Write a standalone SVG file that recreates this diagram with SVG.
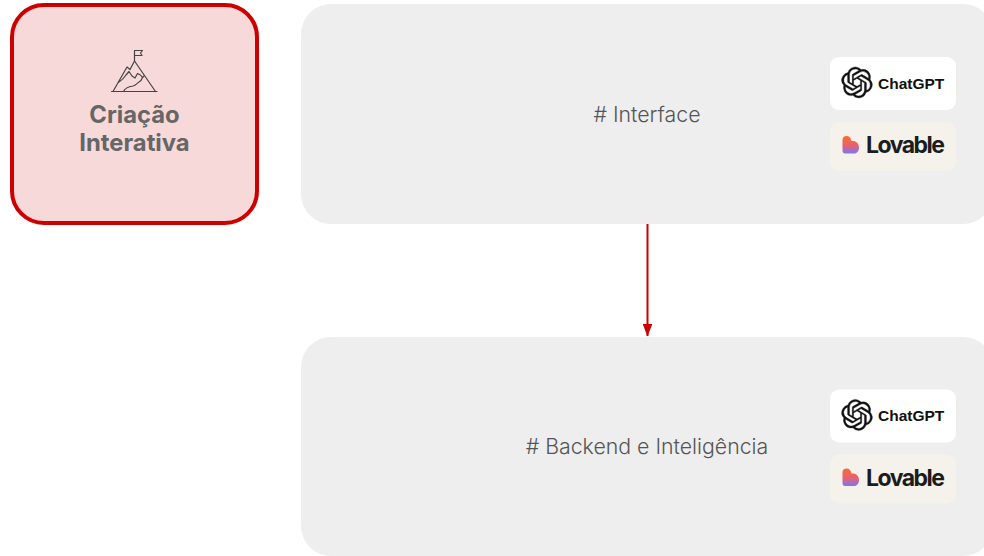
<svg xmlns="http://www.w3.org/2000/svg" xmlns:xlink="http://www.w3.org/1999/xlink" width="984" height="556" viewBox="0 0 984 556">
<style>
.panel{fill:#eeeeee}
.title{font-family:Inter,"Liberation Sans",sans-serif;font-size:23.8px;font-weight:700;fill:#666666;text-anchor:middle}
.label{font-family:Inter,"Liberation Sans",sans-serif;font-size:21.3px;font-weight:300;fill:#555555;text-anchor:middle}
.gpt{font-family:"Liberation Sans",Arial,sans-serif;font-size:15.5px;font-weight:700;fill:#111111}
.lov{font-family:Inter,"Liberation Sans",sans-serif;font-size:23px;font-weight:700;letter-spacing:-1.5px;fill:#1c1c1c}
.ico{fill:none;stroke:#444444;stroke-width:1.2;stroke-linejoin:round;stroke-linecap:round}
</style>
<defs>
<linearGradient id="heart" x1="0" y1="0" x2="0" y2="1">
<stop offset="0" stop-color="#f4712a"/><stop offset="0.5" stop-color="#ee5f6a"/><stop offset="1" stop-color="#7a78f0"/>
</linearGradient>
<marker id="arrow" markerUnits="userSpaceOnUse" markerWidth="13" markerHeight="10" refX="12.5" refY="5" orient="auto" viewBox="0 0 13 10">
<path d="M0 0 L13 5 L0 10 Z" fill="#cc0000"/>
</marker>
<g id="badges">
<rect x="830" y="57" width="126" height="53" rx="9" fill="#ffffff"/>
<path transform="translate(841.5 67) scale(1.29)" fill="#111111" stroke="#111111" stroke-width="0.25" d="M22.2819 9.8211a5.9847 5.9847 0 0 0-.5157-4.9108 6.0462 6.0462 0 0 0-6.5098-2.9A6.0651 6.0651 0 0 0 4.9807 4.1818a5.9847 5.9847 0 0 0-3.9977 2.9 6.0462 6.0462 0 0 0 .7427 7.0966 5.98 5.98 0 0 0 .511 4.9107 6.051 6.051 0 0 0 6.5146 2.9001A5.9847 5.9847 0 0 0 13.2599 24a6.0557 6.0557 0 0 0 5.7718-4.2058 5.9894 5.9894 0 0 0 3.9977-2.9001 6.0557 6.0557 0 0 0-.7475-7.0729zm-9.022 12.6081a4.4755 4.4755 0 0 1-2.8764-1.0408l.1419-.0804 4.7783-2.7582a.7948.7948 0 0 0 .3927-.6813v-6.7369l2.02 1.1686a.071.071 0 0 1 .038.052v5.5826a4.504 4.504 0 0 1-4.4945 4.4944zm-9.6607-4.1254a4.4708 4.4708 0 0 1-.5346-3.0137l.142.0852 4.783 2.7582a.7712.7712 0 0 0 .7806 0l5.8428-3.3685v2.3324a.0804.0804 0 0 1-.0332.0615L9.74 19.9502a4.4992 4.4992 0 0 1-6.1408-1.6464zM2.3408 7.8956a4.485 4.485 0 0 1 2.3655-1.9728V11.6a.7664.7664 0 0 0 .3879.6765l5.8144 3.3543-2.0201 1.1685a.0757.0757 0 0 1-.071 0l-4.8303-2.7865A4.504 4.504 0 0 1 2.3408 7.872zm16.5963 3.8558L13.1038 8.364 15.1192 7.2a.0757.0757 0 0 1 .071 0l4.8303 2.7913a4.4944 4.4944 0 0 1-.6765 8.1042v-5.6772a.79.79 0 0 0-.407-.667zm2.0107-3.0231l-.142-.0852-4.7735-2.7818a.7759.7759 0 0 0-.7854 0L9.409 9.2297V6.8974a.0662.0662 0 0 1 .0284-.0615l4.8303-2.7866a4.4992 4.4992 0 0 1 6.6802 4.66zM8.3065 12.863l-2.02-1.1638a.0804.0804 0 0 1-.038-.0567V6.0742a4.4992 4.4992 0 0 1 7.3757-3.4537l-.142.0805L8.704 5.459a.7948.7948 0 0 0-.3927.6813zm1.0976-2.3654l2.602-1.4998 2.6069 1.4998v2.9994l-2.5974 1.4997-2.6067-1.4997Z"/>
<text class="gpt" x="878" y="88.5">ChatGPT</text>
<rect x="830" y="122" width="126" height="49" rx="9" fill="#f5f2ec"/>
<path d="M842.5 139.5 C842.5 137 844.5 136 846.5 136 C849.5 136 851 138 851.5 141 C854.5 140.5 859 142 859 147.5 C859 151.5 856.5 153.5 854 153.5 L845 153.5 C843.5 153.5 842.5 152.5 842.5 150.5 Z" fill="url(#heart)"/>
<text class="lov" x="866" y="153">Lovable</text>
</g>
</defs>
<g id="connectors">
<path d="M647.5 224 V336" fill="none" stroke="#cc0000" stroke-width="2" marker-end="url(#arrow)"/>
</g>
<g id="node-criacao">
<rect x="12" y="5" width="245" height="218" rx="32" fill="#f8d9d9" stroke="#cc0000" stroke-width="4"/>
<g class="ico">
<path d="M111.5 91.5 H157"/>
<path d="M134.5 61 V50.5 H142.5 L140.5 53 L142 55.5 H134.5"/>
<path d="M113 91.5 L127 67 L130 69.5 L134.5 61 L155.5 91.5"/>
<path d="M119 82 C122 80 124 78 126 75 L129 71.5 L132 76 L135 78 L137.5 73.5 L140.5 75 L142.5 77.5 L144 76"/>
<path d="M123.5 91.5 C125 88 129 86.5 133 86 C136 85.5 137 83 139 82 C141 81 142 79 142.5 77.5"/>
</g>
<text class="title" x="134.5" y="122.5">Criação</text>
<text class="title" x="134.5" y="150.5">Interativa</text>
</g>
<g id="node-interface">
<rect class="panel" x="301" y="4" width="692" height="220" rx="30"/>
<text class="label" x="647" y="122"># Interface</text>
<use xlink:href="#badges" href="#badges"/>
</g>
<g id="node-backend">
<rect class="panel" x="301" y="337" width="692" height="219" rx="30"/>
<text class="label" x="647" y="454"># Backend e Inteligência</text>
<use xlink:href="#badges" href="#badges" y="332.5"/>
</g>
</svg>
